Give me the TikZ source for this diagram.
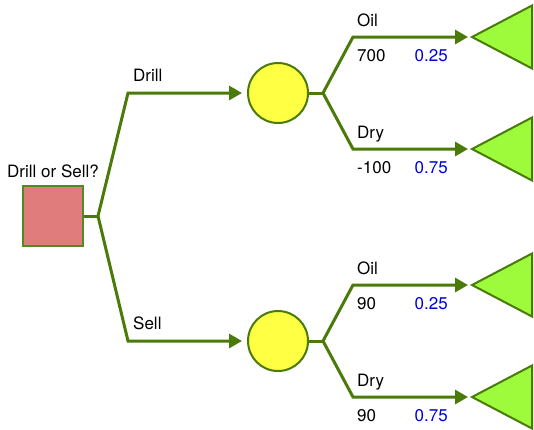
\documentclass[tikz,border=0pt]{standalone}
\usepackage{fontspec}
\setmainfont{TeX Gyre Heros}
\usetikzlibrary{arrows.meta}
\definecolor{lineg}{HTML}{497A0A}
\definecolor{sqfill}{HTML}{E07C7C}
\definecolor{sqedge}{HTML}{4E8A25}
\definecolor{cfill}{HTML}{FFFF44}
\definecolor{tfill}{HTML}{9EFB3C}
\definecolor{probc}{HTML}{0000DD}
\tikzset{
  edge/.style={draw=lineg, line width=3pt, line join=miter},
  arr/.style={edge, -{Triangle[length=13pt,width=14pt]}},
  decision/.style={draw=sqedge, fill=sqfill, line width=2pt, minimum size=60pt, inner sep=0pt},
  chance/.style={circle, draw=lineg, fill=cfill, line width=2pt, minimum size=60pt, inner sep=0pt},
  term/.style={draw=lineg, fill=tfill, line width=2pt, line join=miter},
  lbl/.style={anchor=base west, inner sep=0pt, font=\fontsize{17}{20}\selectfont},
  prob/.style={lbl, anchor=base east, text=probc},
}
\begin{document}
\begin{tikzpicture}[x=1pt,y=-1pt]
\useasboundingbox (0,0) rectangle (534,429);
% decision
\node[decision] (sq) at (53,216) {};
\node[anchor=base, inner sep=0pt, font=\fontsize{17}{20}\selectfont] (q) at (53,177) {Drill or Sell?};
% chance nodes
\node[chance] (c1) at (278,93) {};
\node[chance] (c2) at (278,341) {};
% junctions
\coordinate (j0) at (98,216);
\coordinate (bd) at (128,93);
\coordinate (bs) at (128,341);
\coordinate (j1) at (323,93);
\coordinate (j2) at (323,341);
\coordinate (b11) at (353,37);
\coordinate (b12) at (353,149);
\coordinate (b21) at (353,285);
\coordinate (b22) at (353,397);
% terminals
\coordinate (t11) at (472,37);
\coordinate (t12) at (472,149);
\coordinate (t21) at (472,285);
\coordinate (t22) at (472,397);
\foreach \t in {t11,t12,t21,t22}{
  \draw[term] (\t) -- ++(60,-31.5) -- ++(0,63) -- cycle;
}
% connectors
\draw[edge] (sq.east) -- (j0);
\draw[arr, shorten >=5pt] (j0) -- (bd) -- (c1.west);
\draw[arr, shorten >=5pt] (j0) -- (bs) -- (c2.west);
\draw[edge] (c1.east) -- (j1);
\draw[edge] (c2.east) -- (j2);
\draw[arr, shorten >=4pt] (j1) -- (b11) -- (t11);
\draw[arr, shorten >=4pt] (j1) -- (b12) -- (t12);
\draw[arr, shorten >=4pt] (j2) -- (b21) -- (t21);
\draw[arr, shorten >=4pt] (j2) -- (b22) -- (t22);
% labels
\node[lbl] (ld) at (133,81) {Drill};
\node[lbl] (ls) at (133,329) {Sell};
\node[lbl] (o1) at (357,26) {Oil};
\node[lbl] (v1) at (357,61) {700};
\node[prob] (p1) at (448,61) {0.25};
\node[lbl] (d1) at (357,138) {Dry};
\node[lbl] (v2) at (357,173) {-100};
\node[prob] (p2) at (448,173) {0.75};
\node[lbl] (o2) at (357,274) {Oil};
\node[lbl] (v3) at (357,309) {90};
\node[prob] (p3) at (448,309) {0.25};
\node[lbl] (d2) at (357,386) {Dry};
\node[lbl] (v4) at (357,421) {90};
\node[prob] (p4) at (448,421) {0.75};
\end{tikzpicture}
\end{document}
